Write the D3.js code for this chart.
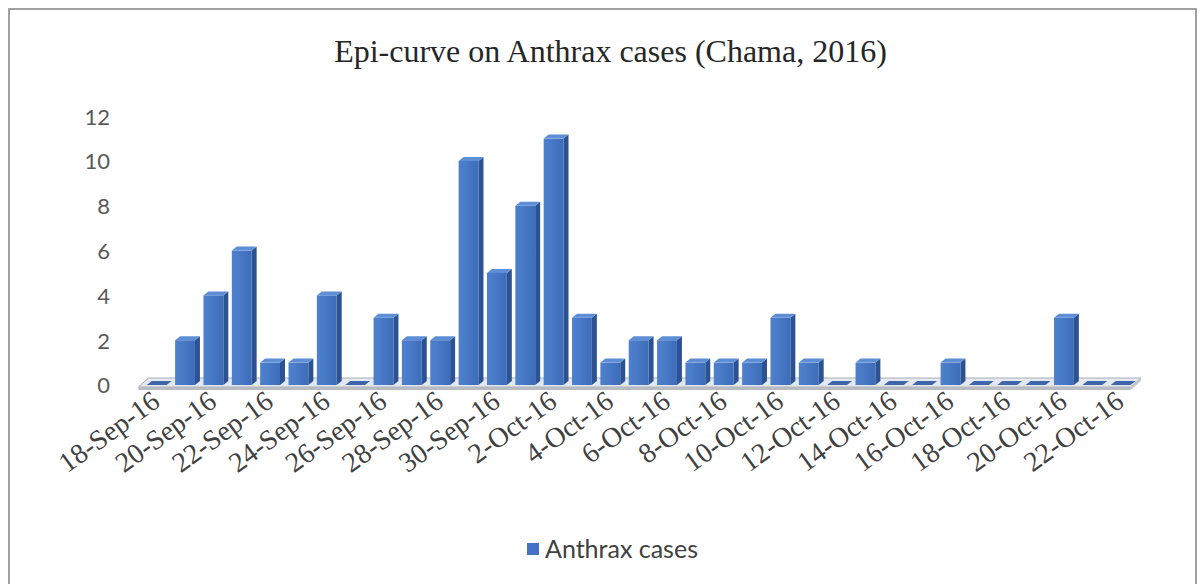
<!DOCTYPE html>
<html>
<head>
<meta charset="utf-8">
<script src="https://cdn.jsdelivr.net/npm/d3@7"></script>
<style>
  html, body { margin: 0; padding: 0; background: #fff; }
  svg { display: block; }
</style>
</head>
<body>
<svg id="chart" width="1204" height="584"></svg>
<script>
// Daily anthrax cases, Chama district, 18 Sep – 22 Oct 2016
const dates = [
  "18-Sep-16","19-Sep-16","20-Sep-16","21-Sep-16","22-Sep-16","23-Sep-16","24-Sep-16",
  "25-Sep-16","26-Sep-16","27-Sep-16","28-Sep-16","29-Sep-16","30-Sep-16",
  "1-Oct-16","2-Oct-16","3-Oct-16","4-Oct-16","5-Oct-16","6-Oct-16","7-Oct-16",
  "8-Oct-16","9-Oct-16","10-Oct-16","11-Oct-16","12-Oct-16","13-Oct-16","14-Oct-16",
  "15-Oct-16","16-Oct-16","17-Oct-16","18-Oct-16","19-Oct-16","20-Oct-16","21-Oct-16","22-Oct-16"
];
const cases = [
  0, 2, 4, 6, 1, 1, 4,
  0, 3, 2, 2, 10, 5,
  8, 11, 3, 1, 2, 2, 1,
  1, 1, 3, 1, 0, 1, 0,
  0, 1, 0, 0, 0, 3, 0, 0
];
const yTicks = [0, 2, 4, 6, 8, 10, 12];
const seriesName = "Anthrax cases";
const chartTitle = "Epi-curve on Anthrax cases (Chama, 2016)";

const svg = d3.select("#chart");

// outer chart frame
svg.append("rect")
  .attr("x", 9).attr("y", 9)
  .attr("width", 1187).attr("height", 620)
  .attr("fill", "#fff")
  .attr("stroke", "#8a8a8a").attr("stroke-width", 1.6);

const defs = svg.append("defs");
const grad = defs.append("linearGradient").attr("id", "frontFace")
  .attr("x1", "0").attr("x2", "1").attr("y1", "0").attr("y2", "0");
grad.append("stop").attr("offset", "0%").attr("stop-color", "#4f80cc");
grad.append("stop").attr("offset", "35%").attr("stop-color", "#4a7bc8");
grad.append("stop").attr("offset", "100%").attr("stop-color", "#3d6cb8");

// scales
const x = d3.scaleBand()
  .domain(dates)
  .range([142.5, 1134.8])
  .paddingInner(0.3)
  .paddingOuter(0.15);

const y = d3.scaleLinear().domain([0, 12]).range([385, 116.2]);

const depthX = 5, depthY = 4;

// floor slab
const fl = x.range()[0] - 4, fr = x.range()[1] - 4, fy = y(0) + 2;
svg.append("polygon")
  .attr("points", [
    [fl, fy], [fr, fy], [fr + 10, fy - 9], [fl + 10, fy - 9]
  ].map(p => p.join(",")).join(" "))
  .attr("fill", "#e4e9f1")
  .attr("stroke", "#a9adb3").attr("stroke-width", 1);
svg.append("polygon")
  .attr("points", [
    [fl, fy], [fr, fy], [fr, fy + 3], [fl, fy + 3]
  ].map(p => p.join(",")).join(" "))
  .attr("fill", "#b8bcc2");
svg.append("polygon")
  .attr("points", [
    [fr, fy], [fr + 10, fy - 9], [fr + 10, fy - 6], [fr, fy + 3]
  ].map(p => p.join(",")).join(" "))
  .attr("fill", "#c4c8ce");

// y axis labels
const yAxis = d3.axisLeft(y).tickValues(yTicks).tickSize(0).tickPadding(0);
const gy = svg.append("g")
  .attr("transform", "translate(110,0)")
  .call(yAxis);
gy.select(".domain").remove();
gy.selectAll("text")
  .attr("font-family", "Lato, 'Open Sans', sans-serif")
  .attr("font-size", 22)
  .attr("fill", "#595959")
  .attr("dy", "0.36em");

// bars (3D columns)
const bw = x.bandwidth();
const bars = svg.append("g").selectAll("g.bar")
  .data(dates.map((d, i) => ({ date: d, value: cases[i] })))
  .join("g").attr("class", "bar");

bars.each(function (d) {
  const g = d3.select(this);
  const x0 = x(d.date), x1 = x0 + bw;
  const yt = y(d.value), yb = y(0);
  if (d.value > 0) {
    // right side face
    g.append("polygon")
      .attr("points", [[x1, yt], [x1 + depthX, yt - depthY], [x1 + depthX, yb - depthY], [x1, yb]]
        .map(p => p.join(",")).join(" "))
      .attr("fill", "#2b5394");
    // front face
    g.append("rect")
      .attr("x", x0).attr("y", yt)
      .attr("width", bw).attr("height", yb - yt)
      .attr("fill", "url(#frontFace)");
  }
  // top face
  g.append("polygon")
    .attr("points", [[x0, yt], [x0 + depthX, yt - depthY], [x1 + depthX, yt - depthY], [x1, yt]]
      .map(p => p.join(",")).join(" "))
    .attr("fill", d.value > 0 ? "#5d8ed6" : "#3f66a8");
});

// category labels, every second date
const xAxisG = svg.append("g");
xAxisG.selectAll("text")
  .data(dates.filter((d, i) => i % 2 === 0))
  .join("text")
  .attr("transform", d => `translate(${x(d) + bw / 2 + 5},${y(0) + 20}) rotate(-36)`)
  .attr("text-anchor", "end")
  .attr("font-family", "'Liberation Serif', 'Times New Roman', serif")
  .attr("font-size", 28)
  .attr("fill", "#404040")
  .text(d => d);

// title
svg.append("text")
  .attr("x", 610.5).attr("y", 62)
  .attr("text-anchor", "middle")
  .attr("font-family", "'Liberation Serif', 'Times New Roman', serif")
  .attr("font-size", 32)
  .attr("fill", "#262626")
  .text(chartTitle);

// legend
const lg = svg.append("g").attr("transform", "translate(527,543)");
lg.append("rect").attr("width", 12).attr("height", 12).attr("fill", "#4472c4");
lg.append("text")
  .attr("x", 18).attr("y", 15)
  .attr("font-family", "Lato, 'Open Sans', sans-serif")
  .attr("font-size", 25)
  .attr("fill", "#404040")
  .text(seriesName);
</script>
</body>
</html>
